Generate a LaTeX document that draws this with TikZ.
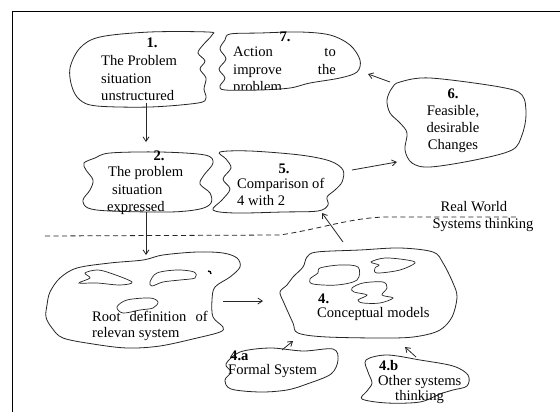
\documentclass[tikz,border=0pt]{standalone}
\usepackage{fontspec}
\setmainfont{Liberation Serif}
\usetikzlibrary{arrows.meta}
\begin{document}
\begin{tikzpicture}[x=1pt,y=-1pt,
  blob/.style={draw=black!85,line width=0.8pt},
  inner/.style={draw=black!85,line width=0.7pt},
  lbl/.style={inner sep=0pt,text height=10pt,text depth=3pt,font=\fontsize{14.6}{17}\selectfont},
  blbl/.style={lbl,font=\fontsize{14.6}{17}\selectfont\bfseries},
  conn/.style={draw=black!85,line width=0.8pt,-{Straight Barb[length=4.5pt,width=6pt]}},
  sm/.style={smooth cycle,tension=0.55}]
\useasboundingbox (0,0) rectangle (560,412);
\fill[white] (0,0) rectangle (560,412);
% frame
\draw[line width=1pt] (12,412) -- (12,12) -- (560,12);

% shape 1
\draw[blob] plot[sm] coordinates {(70,68)(80,48)(100,37)(150,32)(208,32)(212,35)(203,45)(198,53)(205,61)(200,69)(206,78)(204,89)(206,98)(198,103)(150,107)(97,106)(80,100)(72,87)};
\node[blbl] (n1) at (152,44) {1.};
\node[lbl,anchor=west] (t1a) at (101,62) {The Problem};
\node[lbl,anchor=west] (t1b) at (101,80) {situation};
\node[lbl,anchor=west] (t1c) at (101,97) {unstructured};

% shape 7
\draw[blob] plot[sm] coordinates {(230,34)(260,33)(300,32)(330,35)(350,45)(360,60)(357,72)(340,78)(310,83)(290,88)(260,90)(225,90)(220,86)(225,78)(219,69)(226,59)(220,49)(225,40)};
\node[blbl] (n7) at (285,38) {7.};
\node[lbl,anchor=west] (t7a) at (233,53) {Action};
\node[lbl,anchor=east] (t7b) at (336,53) {to};
\node[lbl,anchor=west] (t7c) at (233,71) {improve};
\node[lbl,anchor=east] (t7d) at (336,71) {the};
\begin{scope}
\clip (225,60) rectangle (340,89.2);
\node[lbl,anchor=west] (t7e) at (233,88) {problem};
\end{scope}

% shape 6
\draw[blob] plot[sm] coordinates {(400,82)(430,78)(500,87)(522,95)(526,115)(522,135)(512,150)(475,160)(430,167)(412,163)(405,150)(407,133)(400,123)(390,113)(387,100)(392,88)};
\node[blbl] (n6) at (453,95) {6.};
\node[lbl] (t6a) at (453,112) {Feasible,};
\node[lbl] (t6b) at (453,129) {desirable};
\node[lbl] (t6c) at (453,146) {Changes};

% shape 2
\draw[blob] plot[sm] coordinates {(84,163)(95,158)(110,153)(160,152)(205,155)(213,163)(204,175)(200,184)(210,193)(211,203)(200,209)(170,212)(110,211)(88,208)(83,200)(90,190)(93,180)(86,170)};
\node[blbl] (n2) at (159,157) {2.};
\node[lbl,anchor=west] (t2a) at (108,173) {The problem};
\node[lbl,anchor=west] (t2b) at (112,191) {situation};
\node[lbl,anchor=west] (t2c) at (107,208) {expressed};

% shape 5
\draw[blob] plot[sm] coordinates {(220,152)(250,151)(300,155)(330,161)(343,170)(342,182)(335,190)(327,197)(328,205)(318,211)(283,212)(235,213)(213,210)(222,200)(230,189)(223,179)(231,168)(226,159)};
\node[blbl] (n5) at (284,170) {5.};
\node[lbl,anchor=west] (t5a) at (237,185) {Comparison of};
\node[lbl,anchor=west] (t5b) at (237,202) {4 with 2};

% dashed boundary
\draw[dashed,dash pattern=on 5pt off 3.5pt,line width=0.8pt,draw=black!85] (45,236) -- (280,235) .. controls (320,229) and (350,218) .. (385,217) -- (517,217);
\node[lbl] (rw) at (474,208) {Real World};
\node[lbl] (st) at (483,225) {Systems thinking};

% shape 3
\draw[blob] plot[sm] coordinates {(47,305)(50,292)(60,278)(77,268)(110,263)(143,260)(163,255)(197,252)(223,253)(237,258)(240,267)(230,277)(215,287)(212,300)(213,317)(223,327)(220,332)(197,338)(160,346)(127,348)(93,344)(63,338)(52,328)(46,317)};
\draw[inner] plot[sm] coordinates {(85,273)(97,270)(110,273)(132,282)(120,285)(97,283)(79,283)(90,278)};
\draw[inner] plot[sm] coordinates {(157,273)(177,270)(194,272)(195,278)(180,280)(163,282)(152,286)(150,282)};
\draw[inner] plot[sm] coordinates {(117,307)(127,300)(150,298)(158,302)(153,308)(140,310)(123,313)};
\draw[line width=1.3pt] (208,271) .. controls (210,271) and (211,272) .. (211,274);
\node[lbl,anchor=west] (t3a) at (92,318) {Root};
\node[lbl] (t3b) at (158,318) {definition};
\node[lbl,anchor=east] (t3c) at (208,318) {of};
\node[lbl,anchor=west] (t3d) at (92,334) {relevan system};

% shape 4
\draw[blob] plot[sm] coordinates {(307,257)(317,252)(360,250)(400,248)(433,252)(443,263)(453,283)(457,297)(452,317)(440,330)(420,336)(393,338)(327,337)(298,333)(293,323)(284,303)(280,292)(287,285)(293,277)(303,267)};
\draw[inner] plot[sm] coordinates {(320,268)(340,265)(358,267)(357,280)(337,285)(313,284)(310,279)(318,273)};
\draw[inner] plot[sm] coordinates {(371,262)(385,258)(407,260)(415,263)(400,270)(377,273)(375,268)(379,265)};
\draw[inner] plot[sm] coordinates {(352,288)(363,283)(383,282)(387,288)(382,295)(393,298)(380,303)(363,303)(358,300)(367,295)(354,292)};
\node[blbl,anchor=west] (n4) at (318,300) {4.};
\node[lbl,anchor=west] (t4) at (317,314) {Conceptual models};

% shape 4a
\draw[blob] plot[sm] coordinates {(226,364)(240,352)(270,348)(303,351)(333,349)(338,360)(331,374)(307,384)(287,390)(260,392)(231,389)(225,380)(231,372)};
\node[blbl,anchor=west] (n4a) at (230,357) {4.a};
\node[lbl,anchor=west] (t4a) at (228,371) {Formal System};

% shape 4b
\draw[blob] plot[sm] coordinates {(366,360)(387,355)(420,360)(453,366)(468,375)(467,386)(453,390)(440,394)(420,402)(387,403)(362,399)(367,391)(372,383)(368,372)};
\node[blbl,anchor=west] (n4b) at (379,367) {4.b};
\node[lbl,anchor=west] (t4b1) at (378,382) {Other systems};
\node[lbl,anchor=west] (t4b2) at (395,397) {thinking};

% connector end points
\coordinate (a1s) at (146,103); \coordinate (a1e) at (146,142);
\coordinate (a2s) at (146,212); \coordinate (a2e) at (146,255);
\coordinate (a3s) at (223,301); \coordinate (a3e) at (263,301);
\coordinate (a4s) at (343,242); \coordinate (a4e) at (322,213);
\coordinate (a5s) at (352,170); \coordinate (a5e) at (397,162);
\coordinate (a6s) at (390,82);  \coordinate (a6e) at (368,74);
\coordinate (a7s) at (282,350); \coordinate (a7e) at (293,341);
\coordinate (a8s) at (416,357); \coordinate (a8e) at (405,347);
\draw[conn] (a1s) -- (a1e);
\draw[conn] (a2s) -- (a2e);
\draw[conn] (a3s) -- (a3e);
\draw[conn] (a4s) -- (a4e);
\draw[conn] (a5s) -- (a5e);
\draw[conn] (a6s) -- (a6e);
\draw[conn] (a7s) -- (a7e);
\draw[conn] (a8s) -- (a8e);
\end{tikzpicture}
\end{document}
